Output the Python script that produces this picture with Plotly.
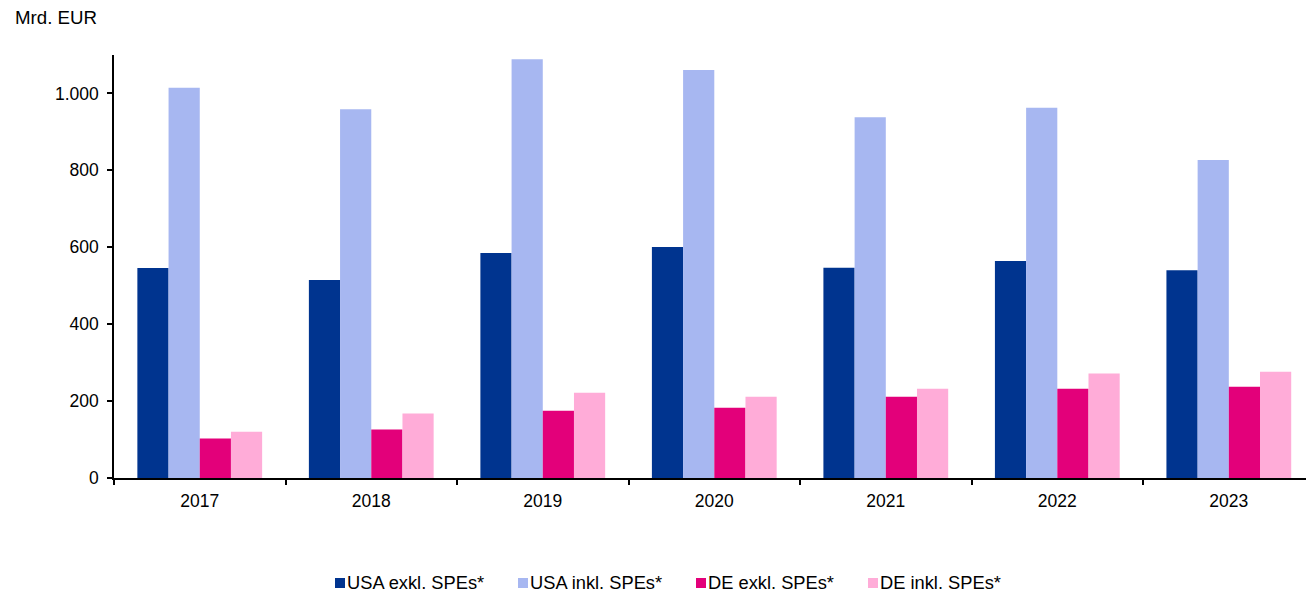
import plotly.graph_objects as go

# Annual values in Mrd. EUR
years = ["2017", "2018", "2019", "2020", "2021", "2022", "2023"]
usa_exkl = [546, 515, 585, 601, 547, 564, 540]
usa_inkl = [1015, 959, 1089, 1061, 938, 963, 827]
de_exkl = [103, 126, 175, 183, 211, 232, 237]
de_inkl = [120, 168, 222, 211, 232, 272, 276]

series_names = ["USA exkl. SPEs*", "USA inkl. SPEs*", "DE exkl. SPEs*", "DE inkl. SPEs*"]
series_colors = ["#00348F", "#A7B7F1", "#E3007A", "#FFACD8"]
series_values = [usa_exkl, usa_inkl, de_exkl, de_inkl]

y_ticks = [0, 200, 400, 600, 800, 1000]
y_tick_text = ["0", "200", "400", "600", "800", "1.000"]

FONT = "Liberation Sans, Arial, sans-serif"
W, H = 1306, 594
M_L, M_R, M_T, M_B = 114, 0, 55, 116
PLOT_W = W - M_L - M_R
PLOT_H = H - M_T - M_B


def px_to_paper_x(px):
    return (px - M_L) / PLOT_W


def py_to_paper_y(py):
    return (H - M_B - py) / PLOT_H


fig = go.Figure()
for name, color, vals in zip(series_names, series_colors, series_values):
    fig.add_trace(go.Bar(
        x=years, y=vals, name=name, showlegend=False,
        marker=dict(color=color, line=dict(width=0)),
    ))

# Compact legend row below the chart: small square swatch followed by label
legend_starts = [335, 518, 696, 868]
legend_y = 582
swatch = 10
shapes = []
annotations = []
for start, name, color in zip(legend_starts, series_names, series_colors):
    shapes.append(dict(
        type="rect", xref="paper", yref="paper",
        x0=px_to_paper_x(start), x1=px_to_paper_x(start + swatch),
        y0=py_to_paper_y(legend_y + 1 + swatch / 2), y1=py_to_paper_y(legend_y + 1 - swatch / 2),
        fillcolor=color, line=dict(width=0),
    ))
    annotations.append(dict(
        text=name, xref="paper", yref="paper",
        x=px_to_paper_x(start + swatch + 1), y=py_to_paper_y(legend_y),
        xanchor="left", yanchor="middle", showarrow=False, borderpad=0,
        font=dict(family=FONT, size=18.3, color="black"),
    ))

annotations.append(dict(
    text="Mrd. EUR", xref="paper", yref="paper",
    x=px_to_paper_x(13), y=py_to_paper_y(18),
    xanchor="left", yanchor="middle", showarrow=False,
    font=dict(family=FONT, size=18.7, color="black"),
))

fig.update_layout(
    width=W, height=H,
    margin=dict(l=M_L, r=M_R, t=M_T, b=M_B),
    paper_bgcolor="white", plot_bgcolor="white",
    barmode="group", bargap=0.2725, bargroupgap=0,
    font=dict(family=FONT, size=17.5, color="black"),
    showlegend=False,
    shapes=shapes,
    annotations=annotations,
)

fig.update_xaxes(
    type="category", range=[-0.5, 6.45],
    showline=True, linecolor="black", linewidth=1.5,
    ticks="outside", tickson="boundaries", ticklen=5, tickwidth=1.5, tickcolor="black",
    showgrid=False, zeroline=False, ticklabelstandoff=6,
    tickfont=dict(family=FONT, size=17.5, color="black"),
)
fig.update_yaxes(
    range=[0, 1100], tickvals=y_ticks, ticktext=y_tick_text,
    showline=True, linecolor="black", linewidth=1.5,
    ticks="outside", ticklen=5, tickwidth=1.5, tickcolor="black",
    showgrid=False, zeroline=False, ticklabelstandoff=5,
    tickfont=dict(family=FONT, size=17.5, color="black"),
)

fig.write_html("out.html")
